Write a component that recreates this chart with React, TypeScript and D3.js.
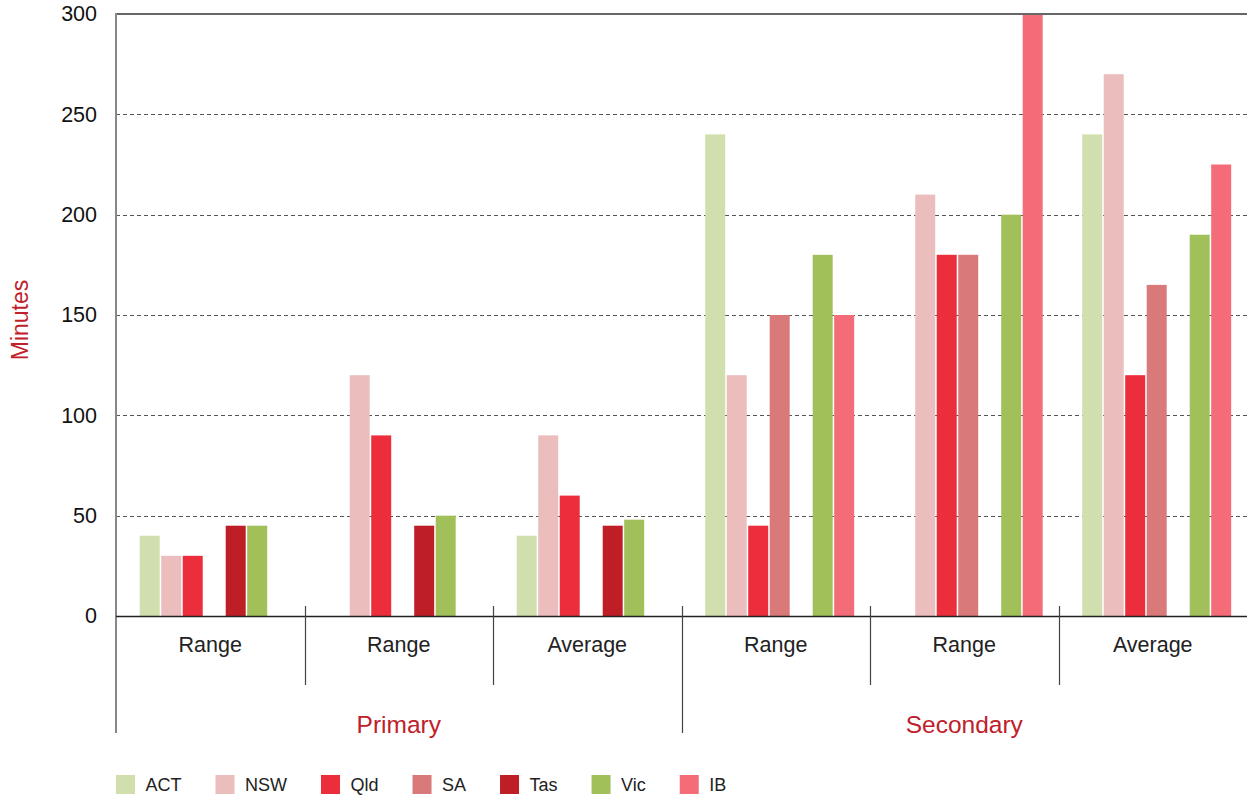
import React, { useEffect, useRef } from 'react';
import * as d3 from 'd3';

const series = ['ACT', 'NSW', 'Qld', 'SA', 'Tas', 'Vic', 'IB'];
const colors = ['#d0dfad', '#ecbdbd', '#ec2d3b', '#da7979', '#be1e26', '#a1c05a', '#f36c77'];

const subCategories = ['Range', 'Range', 'Average', 'Range', 'Range', 'Average'];
const levels = ['Primary', 'Primary', 'Primary', 'Secondary', 'Secondary', 'Secondary'];

// one array per state, one value per column (null = no bar)
const act = [40, null, 40, 240, null, 240];
const nsw = [30, 120, 90, 120, 210, 270];
const qld = [30, 90, 60, 45, 180, 120];
const sa = [null, null, null, 150, 180, 165];
const tas = [45, 45, 45, null, null, null];
const vic = [45, 50, 48, 180, 200, 190];
const ib = [null, null, null, 150, 300, 225];

const yTicks = [0, 50, 100, 150, 200, 250, 300];

const W = 1247;
const H = 796;
const red = '#c0202a';
const font = '"Liberation Sans", Arial, Helvetica, sans-serif';

const Chart: React.FC = () => {
  const svgRef = useRef<SVGSVGElement>(null);

  useEffect(() => {
    const svg = d3.select(svgRef.current);
    svg.selectAll('*').remove();

    const values = [act, nsw, qld, sa, tas, vic, ib];
    const margin = { top: 14, left: 116, right: 0 };
    const baseY = 616;

    const y = d3.scaleLinear().domain([0, 300]).range([baseY, margin.top]);
    const x0 = d3
      .scaleBand<number>()
      .domain(subCategories.map((_, i) => i))
      .range([margin.left, W - margin.right]);
    const x1 = d3
      .scaleBand<string>()
      .domain(series)
      .range([0, x0.bandwidth()])
      .paddingInner(0.07)
      .paddingOuter(0.92)
      .align(0.6);
    const color = d3.scaleOrdinal<string, string>().domain(series).range(colors);

    // gridlines
    svg
      .append('g')
      .selectAll('line')
      .data(yTicks.filter((t) => t > 0 && t < 300))
      .join('line')
      .attr('x1', margin.left)
      .attr('x2', W)
      .attr('y1', (d) => Math.round(y(d)) + 0.5)
      .attr('y2', (d) => Math.round(y(d)) + 0.5)
      .attr('stroke', '#555')
      .attr('stroke-dasharray', '4,3');

    // bars
    const groups = svg
      .append('g')
      .selectAll('g')
      .data(subCategories.map((_, i) => i))
      .join('g')
      .attr('transform', (i) => `translate(${x0(i)},0)`);

    groups
      .selectAll('rect')
      .data((i) =>
        series
          .map((s, k) => ({ key: s, value: values[k][i] }))
          .filter((d) => d.value != null)
      )
      .join('rect')
      .attr('x', (d) => x1(d.key) as number)
      .attr('width', x1.bandwidth())
      .attr('y', (d) => y(d.value as number))
      .attr('height', (d) => baseY - y(d.value as number))
      .attr('fill', (d) => color(d.key));

    // top frame line and left axis
    svg
      .append('line')
      .attr('x1', margin.left)
      .attr('x2', W)
      .attr('y1', margin.top)
      .attr('y2', margin.top)
      .attr('stroke', '#666')
      .attr('stroke-width', 2);

    svg
      .append('line')
      .attr('x1', margin.left)
      .attr('x2', margin.left)
      .attr('y1', margin.top - 1)
      .attr('y2', 733)
      .attr('stroke', '#888')
      .attr('stroke-width', 2);

    // baseline
    svg
      .append('line')
      .attr('x1', margin.left)
      .attr('x2', W)
      .attr('y1', baseY + 0.5)
      .attr('y2', baseY + 0.5)
      .attr('stroke', '#222')
      .attr('stroke-width', 1.5);

    // y axis labels
    const yAxis = svg
      .append('g')
      .attr('transform', `translate(${margin.left},0)`)
      .call(d3.axisLeft(y).tickValues(yTicks).tickSize(0).tickPadding(19));
    yAxis.select('.domain').remove();
    yAxis
      .selectAll('text')
      .attr('font-size', 21.5)
      .attr('font-family', font)
      .attr('fill', '#111');

    svg
      .append('text')
      .attr('transform', 'rotate(-90)')
      .attr('x', -320)
      .attr('y', 28)
      .attr('text-anchor', 'middle')
      .attr('font-size', 23)
      .attr('font-family', font)
      .attr('fill', red)
      .text('Minutes');

    // category dividers
    const bounds = subCategories.map((_, i) => x0(i) as number).slice(1);
    svg
      .append('g')
      .selectAll('line')
      .data(bounds)
      .join('line')
      .attr('x1', (d) => Math.round(d) + 0.5)
      .attr('x2', (d) => Math.round(d) + 0.5)
      .attr('y1', 606)
      .attr('y2', (d, i) => (levels[i] !== levels[i + 1] ? 733 : 685))
      .attr('stroke', '#444')
      .attr('stroke-width', 1.2);

    svg
      .append('g')
      .selectAll('text')
      .data(subCategories)
      .join('text')
      .attr('x', (_, i) => (x0(i) as number) + x0.bandwidth() / 2)
      .attr('y', 644)
      .attr('dy', '0.35em')
      .attr('text-anchor', 'middle')
      .attr('font-size', 21.5)
      .attr('font-family', font)
      .attr('fill', '#222')
      .text((d) => d);

    const levelNames = Array.from(new Set(levels));
    svg
      .append('g')
      .selectAll('text')
      .data(levelNames)
      .join('text')
      .attr('x', (d) => {
        const idx = levels.map((l, i) => (l === d ? i : -1)).filter((i) => i >= 0);
        const a = x0(idx[0]) as number;
        const b = (x0(idx[idx.length - 1]) as number) + x0.bandwidth();
        return (a + b) / 2;
      })
      .attr('y', 724)
      .attr('dy', '0.35em')
      .attr('text-anchor', 'middle')
      .attr('font-size', 24.5)
      .attr('font-family', font)
      .attr('fill', red)
      .text((d) => d);

    // legend (flow layout)
    const legend = svg.append('g').attr('transform', 'translate(116,775)');
    let cx = 0;
    series.forEach((s) => {
      const item = legend.append('g').attr('transform', `translate(${cx},0)`);
      item.append('rect').attr('width', 19).attr('height', 19).attr('fill', color(s));
      const t = item
        .append('text')
        .attr('x', 29.5)
        .attr('y', 9.5)
        .attr('dy', '0.35em')
        .attr('font-size', 18)
        .attr('font-family', font)
        .attr('fill', '#222')
        .text(s);
      const w = (t.node() as SVGTextElement).getComputedTextLength();
      cx += 29.5 + w + 34;
    });
  }, []);

  return (
    <svg
      ref={svgRef}
      width={W}
      height={H}
      style={{ position: 'absolute', left: 0, top: 0, background: '#fff' }}
    />
  );
};

export default function App() {
  return <Chart />;
}
